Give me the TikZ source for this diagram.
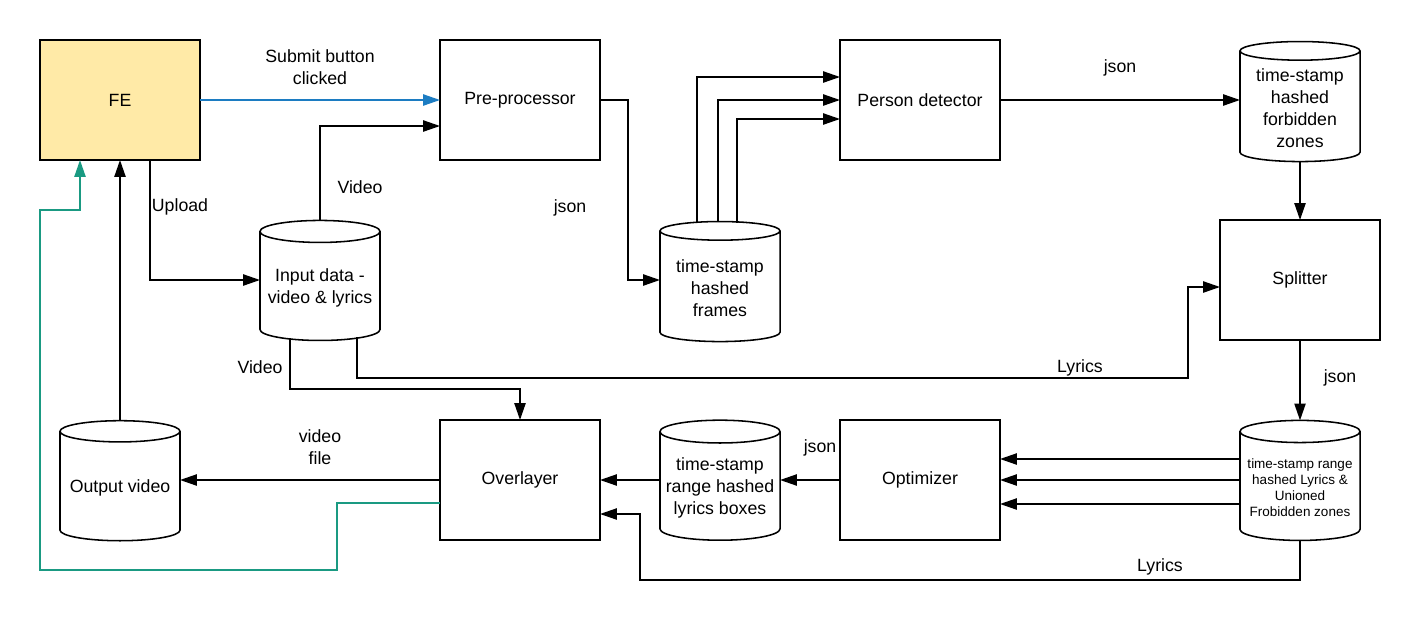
\documentclass[tikz,border=0pt]{standalone}
\usepackage{fontspec}
\setmainfont{Liberation Sans}
\usetikzlibrary{calc,shapes.geometric,arrows.meta,positioning}
\definecolor{feyellow}{HTML}{FFEAA7}
\definecolor{linkblue}{HTML}{1C7CC2}
\definecolor{linkteal}{HTML}{1A9A82}

\begin{document}
\begin{tikzpicture}[x=0.025cm, y=-0.025cm,
  box/.style={rectangle, draw, line width=1.1pt, minimum width=4cm, minimum height=3cm, outer sep=0pt, text centered, align=center, font=\fontsize{12.6}{15.6}\selectfont},
  store/.style={cylinder, shape border rotate=90, aspect=0.2, draw, line width=1.1pt, minimum width=3cm, minimum height=3cm, outer sep=0pt, inner sep=2pt, align=center, font=\fontsize{12.6}{15.6}\selectfont},
  lbl/.style={align=center, inner sep=0pt, font=\fontsize{12.6}{15.6}\selectfont},
  arrow/.style={-{Triangle[length=12pt,width=8pt]}, line width=1.1pt}
]
  \useasboundingbox (0,0) rectangle (1420,640);

  \node[box, fill=feyellow] (fe) at (120,100) {FE};
  \node[box] (pre) at (520,100) {Pre-processor};
  \node[box] (det) at (920,100) {Person detector};
  \node[store] (zones) at (1300,108) {time-stamp\\hashed\\forbidden\\zones};
  \node[box] (split) at (1300,280) {Splitter};
  \node[store] (inp) at (320,288) {Input data -\\video \& lyrics};
  \node[store] (frames) at (720,288) {time-stamp\\hashed\\frames};
  \node[store] (outv) at (120,488) {Output video};
  \node[box] (over) at (520,480) {Overlayer};
  \node[store] (boxes) at (720,488) {time-stamp\\range hashed\\lyrics boxes};
  \node[box] (opt) at (920,480) {Optimizer};
  \node[store, font=\fontsize{9.6}{11.4}\selectfont] (union) at (1300,488) {time-stamp range\\hashed Lyrics \&\\Unioned\\Frobidden zones};

  \node[lbl] (submit) at (320,67) {Submit button\\clicked};
  \node[lbl] (upload) at (180,207) {Upload};
  \node[lbl] (vidup) at (360,187) {Video};
  \node[lbl] (jsonpre) at (570,208) {json};
  \node[lbl] (jsondet) at (1120,68) {json};
  \node[lbl] (lyrsplit) at (1080,368) {Lyrics};
  \node[lbl] (viddown) at (260,367) {Video};
  \node[lbl] (jsonsplit) at (1340,378) {json};
  \node[lbl] (jsonopt) at (820,448) {json};
  \node[lbl] (lyrover) at (1160,567) {Lyrics};
  \node[lbl] (vidfile) at (320,447) {video\\file};

  \draw[arrow, color=linkblue] (fe.east) -- (pre.west);
  \draw[arrow] ($(fe.south)+(30,0)$) |- ($(inp.west)+(0,-8)$);
  \draw[arrow] (inp.north) |- ($(pre.west)+(0,26)$);
  \draw[arrow] (pre.east) -- ++(28,0) |- ($(frames.west)+(0,-8)$);
  \draw[arrow] ($(frames.north)+(-23,1)$) |- ($(det.west)+(0,-23)$);
  \draw[arrow] ($(frames.north)+(-2,0)$) |- (det.west);
  \draw[arrow] ($(frames.north)+(17,1)$) |- ($(det.west)+(0,19)$);
  \draw[arrow] (det.east) -- ($(zones.west)+(0,-8)$);
  \draw[arrow] (zones.south) -- (split.north);
  \draw[arrow] ($(inp.south)+(37,-3)$) |- ($(split.west)+(-32,98)$) |- ($(split.west)+(0,7)$);
  \draw[arrow] ($(inp.south)+(-30,-2)$) |- ($(over.north)+(0,-31)$) -- (over.north);
  \draw[arrow] (split.south) -- (union.north);
  \draw[arrow] ($(union.west)+(0,-29)$) -- ($(opt.east)+(0,-21)$);
  \draw[arrow] ($(union.west)+(0,-8)$) -- (opt.east);
  \draw[arrow] ($(union.west)+(0,16)$) -- ($(opt.east)+(0,24)$);
  \draw[arrow] (opt.west) -- ($(boxes.east)+(0,-8)$);
  \draw[arrow] ($(boxes.west)+(0,-8)$) -- (over.east);
  \draw[arrow] (union.south) |- ($(over.east)+(40,100)$) |- ($(over.east)+(0,34)$);
  \draw[arrow] (over.west) -- ($(outv.east)+(0,-8)$);
  \draw[arrow] (outv.north) -- (fe.south);
  \draw[arrow, color=linkteal] ($(over.west)+(0,23)$) -| ($(over.west)+(-103,90)$) -| ($(fe.south west)+(0,50)$) -| ($(fe.south)+(-40,0)$);
\end{tikzpicture}
\end{document}
